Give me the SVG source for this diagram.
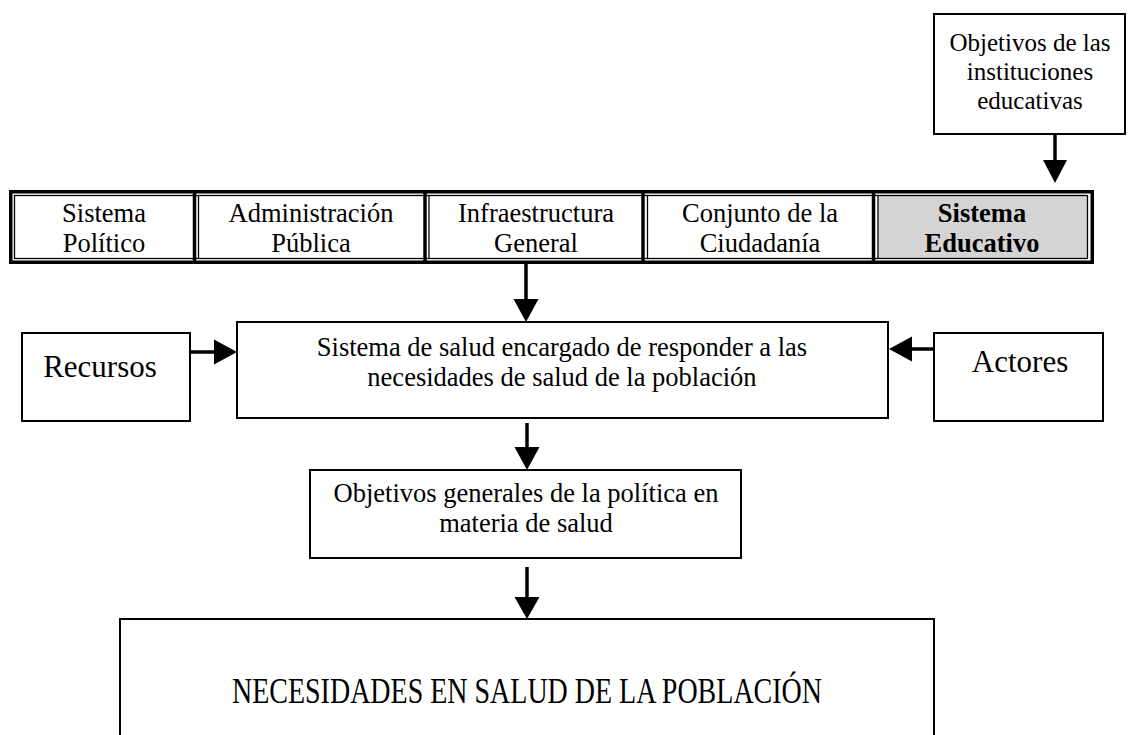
<svg xmlns="http://www.w3.org/2000/svg" width="1139" height="735" viewBox="0 0 1139 735">
<style>
text{font-family:"Liberation Serif","Times New Roman",serif;fill:#000;text-anchor:middle}
.box{fill:#fff;stroke:#000;stroke-width:2}
.t26{font-size:26.5px}
.t24{font-size:25px}
.t31{font-size:31px}
.big{font-size:36px}
.thick{stroke:#000;stroke-width:3.5;fill:none}
.thin{stroke:#000;stroke-width:1.3;fill:none}
.conn line{stroke:#000;stroke-width:3.5}
.conn polygon{fill:#000}
</style>
<rect width="1139" height="735" fill="#fff"/>

<g id="objetivos-instituciones">
<rect class="box" x="934" y="14" width="191" height="120"/>
<text class="t24" x="1030" y="51">Objetivos de las</text>
<text class="t24" x="1030" y="80">instituciones</text>
<text class="t24" x="1030" y="109">educativas</text>
</g>

<g id="tabla-sistemas">
<rect x="878.5" y="196" width="208.5" height="62.5" fill="#d4d4d4"/>
<rect class="thick" x="10.75" y="191.75" width="1081.5" height="70.5"/>
<rect class="thin" x="14.5" y="195.5" width="1073" height="63"/>
<line class="thick" x1="194.5" y1="192" x2="194.5" y2="262"/>
<line class="thin" x1="198.5" y1="195.5" x2="198.5" y2="258.5"/>
<line class="thick" x1="425" y1="192" x2="425" y2="262"/>
<line class="thin" x1="429" y1="195.5" x2="429" y2="258.5"/>
<line class="thick" x1="643" y1="192" x2="643" y2="262"/>
<line class="thin" x1="647.5" y1="195.5" x2="647.5" y2="258.5"/>
<line class="thick" x1="873.5" y1="192" x2="873.5" y2="262"/>
<line class="thin" x1="878" y1="195.5" x2="878" y2="258.5"/>
</g>
<g id="sistema-politico">
<text class="t26" x="104" y="222">Sistema</text>
<text class="t26" x="104" y="252">Político</text>
</g>
<g id="administracion-publica">
<text class="t26" x="311" y="222">Administración</text>
<text class="t26" x="311" y="252">Pública</text>
</g>
<g id="infraestructura-general">
<text class="t26" x="536" y="222">Infraestructura</text>
<text class="t26" x="536" y="252">General</text>
</g>
<g id="conjunto-ciudadania">
<text class="t26" x="760" y="222">Conjunto de la</text>
<text class="t26" x="760" y="252">Ciudadanía</text>
</g>
<g id="sistema-educativo">
<text class="t26" x="982" y="222" font-weight="bold">Sistema</text>
<text class="t26" x="982" y="252" font-weight="bold">Educativo</text>
</g>

<g id="recursos">
<rect class="box" x="22" y="333" width="168" height="88"/>
<text class="t31" x="100" y="377">Recursos</text>
</g>

<g id="sistema-salud">
<rect class="box" x="237" y="322" width="651" height="96"/>
<text class="t26" x="562" y="356">Sistema de salud encargado de responder a las</text>
<text class="t26" x="562" y="386">necesidades de salud de la población</text>
</g>

<g id="actores">
<rect class="box" x="934" y="333" width="169" height="88"/>
<text class="t31" x="1020" y="372">Actores</text>
</g>

<g id="objetivos-generales">
<rect class="box" x="310" y="470" width="431" height="88"/>
<text class="t26" x="526" y="502">Objetivos generales de la política en</text>
<text class="t26" x="526" y="532">materia de salud</text>
</g>

<g id="necesidades">
<rect class="box" x="120" y="619" width="814" height="130"/>
<text class="big" x="527" y="703" textLength="590" lengthAdjust="spacingAndGlyphs">NECESIDADES EN SALUD DE LA POBLACIÓN</text>
</g>

<g id="connectors" class="conn">
<line x1="1055" y1="134" x2="1055" y2="162"/>
<polygon points="1043,160 1067,160 1055,183"/>
<line x1="526" y1="264" x2="526" y2="302"/>
<polygon points="513.5,299 538.5,299 526,322"/>
<line x1="190" y1="352" x2="216" y2="352"/>
<polygon points="214,339.5 214,364.5 237,352"/>
<line x1="934" y1="349" x2="910" y2="349"/>
<polygon points="912,336.5 912,361.5 889,349"/>
<line x1="527" y1="423" x2="527" y2="449"/>
<polygon points="514.5,447 539.5,447 527,470"/>
<line x1="527" y1="567" x2="527" y2="599"/>
<polygon points="514.5,597 539.5,597 527,619"/>
</g>
</svg>
